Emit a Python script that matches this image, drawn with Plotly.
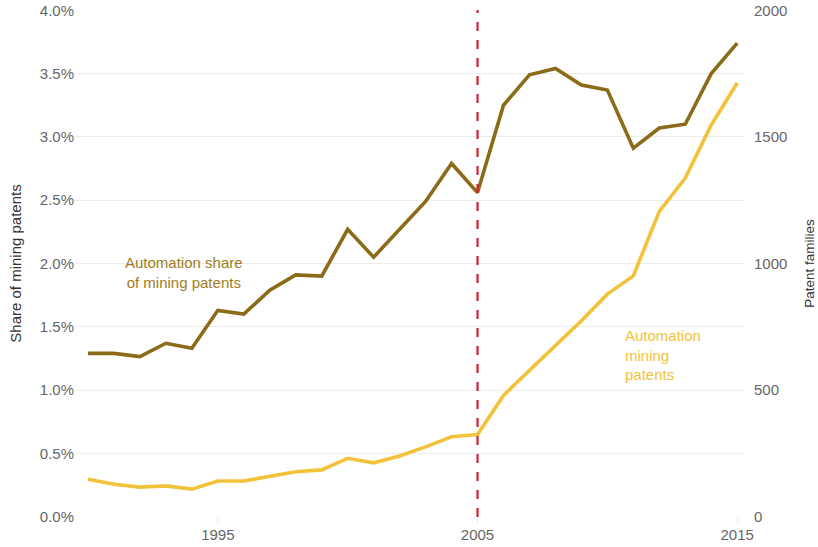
import plotly.graph_objects as go

years = list(range(1990, 2016))
share_pct = [1.29, 1.29, 1.265, 1.37, 1.33, 1.63, 1.60, 1.79, 1.91, 1.90,
             2.27, 2.05, 2.27, 2.49, 2.79, 2.56, 3.25, 3.49, 3.54, 3.41,
             3.37, 2.91, 3.07, 3.10, 3.50, 3.74]
patent_families = [148, 128, 117, 122, 109, 141, 141, 158, 178, 185,
                   231, 213, 240, 276, 316, 325, 479, 578, 676, 774,
                   879, 951, 1206, 1337, 1547, 1713]
share = [v / 100 for v in share_pct]
share_ticks = [0, 0.005, 0.01, 0.015, 0.02, 0.025, 0.03, 0.035, 0.04]
family_ticks = [0, 500, 1000, 1500, 2000]
year_ticks = [1995, 2005, 2015]
event_year = 2005

DARK = "#8B6B17"
LIGHT = "#F2C33A"
FONT = "Liberation Sans, Arial, sans-serif"

fig = go.Figure()
fig.add_trace(go.Scatter(x=years, y=share, mode="lines", line=dict(color=DARK, width=3.6),
                         showlegend=False))
fig.add_trace(go.Scatter(x=years, y=patent_families, mode="lines", yaxis="y2",
                         line=dict(color=LIGHT, width=3.6), showlegend=False))

fig.add_shape(type="line", xref="x", yref="paper", x0=event_year, x1=event_year,
              y0=0, y1=1, line=dict(color="#D21F35", width=2.2, dash="dash"))

fig.add_annotation(x=1993.7, y=0.0193, xref="x", yref="y",
                   text="Automation share<br>of mining patents", showarrow=False,
                   font=dict(color="#A07D22", size=15, family=FONT), align="center")
fig.add_annotation(x=2010.6, y=0.0128, xref="x", yref="y", xanchor="left",
                   text="Automation<br>mining<br>patents", showarrow=False,
                   font=dict(color=LIGHT, size=15, family=FONT), align="left")

fig.update_layout(
    width=818, height=547,
    margin=dict(l=75, r=73, t=10, b=30),
    paper_bgcolor="white", plot_bgcolor="white",
    font=dict(family=FONT, color="#666666", size=15),
    xaxis=dict(range=[1989.5, 2015.3], tickvals=year_ticks, showgrid=False,
               zeroline=False, ticks="outside", ticklen=4, tickcolor="#e6e6e6",
               showline=False, automargin=False, tickfont=dict(size=15, color="#666666")),
    yaxis=dict(range=[-0.00002, 0.04002], tickvals=share_ticks, tickformat=".1%", showgrid=True,
               gridcolor="#ececec", gridwidth=1, zeroline=False, automargin=False,
               title=dict(text="Share of mining patents", font=dict(size=15, color="#333333"), standoff=14),
               tickfont=dict(size=15, color="#666666")),
    yaxis2=dict(range=[-1, 2001], tickvals=family_ticks, overlaying="y", side="right", showgrid=False,
                zeroline=False, automargin=False, ticklabelstandoff=8,
                title=dict(text="Patent families", font=dict(size=13.5, color="#333333"), standoff=18),
                tickfont=dict(size=15, color="#666666")),
)

fig.write_html("out.html", config={"displayModeBar": False},
               post_script="document.body.style.margin='0px';")
